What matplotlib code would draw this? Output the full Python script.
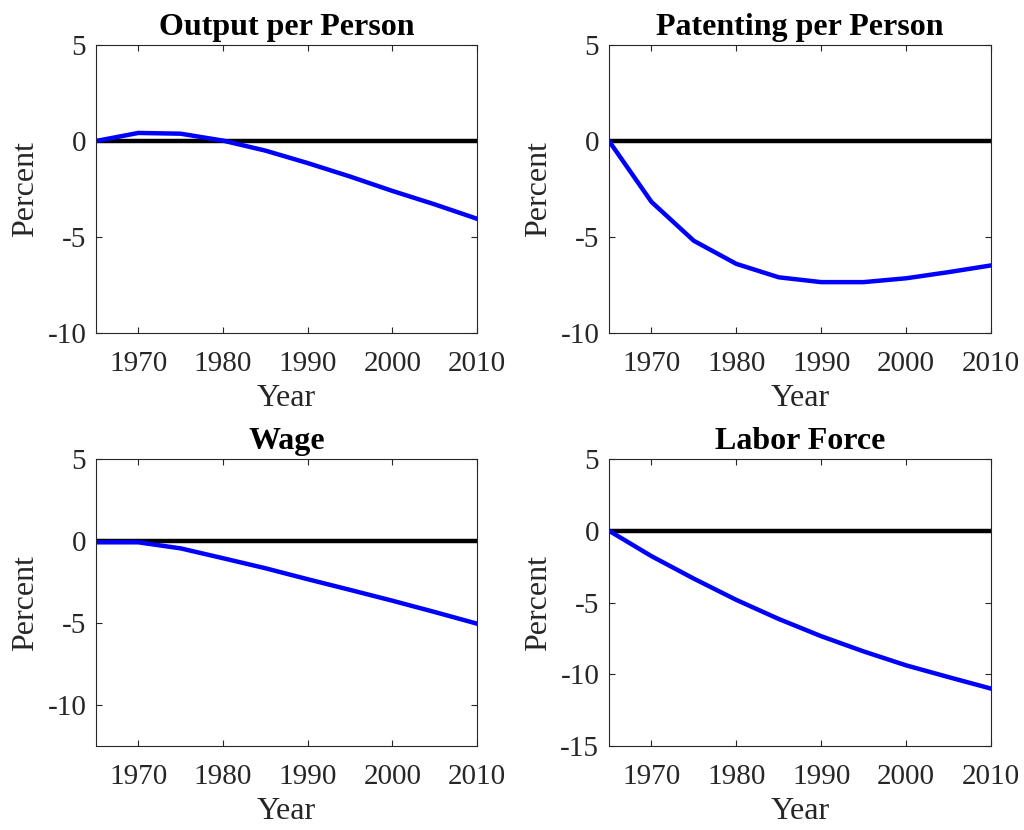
import matplotlib
matplotlib.use("Agg")
import matplotlib.pyplot as plt

years = [1965, 1970, 1975, 1980, 1985, 1990, 1995, 2000, 2005, 2010]
output_pp = [0.0, 0.42, 0.38, 0.02, -0.5, -1.15, -1.85, -2.6, -3.3, -4.05]
patenting_pp = [0.0, -3.17, -5.2, -6.4, -7.1, -7.35, -7.35, -7.15, -6.83, -6.48]
wage = [-0.08, -0.08, -0.45, -1.05, -1.66, -2.33, -2.98, -3.64, -4.33, -5.04]
labor_force = [0.0, -1.77, -3.34, -4.82, -6.15, -7.35, -8.41, -9.38, -10.2, -11.0]

titles = ["Output per Person", "Patenting per Person", "Wage", "Labor Force"]
series = [output_pp, patenting_pp, wage, labor_force]
ylims = [(-10, 5), (-10, 5), (-12.5, 5), (-15, 5)]
yticks = [[-10, -5, 0, 5], [-10, -5, 0, 5], [-10, -5, 0, 5], [-15, -10, -5, 0, 5]]
xticks = [1970, 1980, 1990, 2000, 2010]

plt.rcParams['font.family'] = ['Liberation Serif', 'DejaVu Serif']
plt.rcParams['axes.unicode_minus'] = False

fig = plt.figure(figsize=(10.24, 8.3), dpi=100)
W, H = 1024, 830
boxes = [(96, 45, 477, 333), (609, 45, 991, 333), (96, 459, 477, 746), (609, 459, 991, 746)]

for (x0, y0, x1, y1), t, s, yl, yt in zip(boxes, titles, series, ylims, yticks):
    ax = fig.add_axes([x0 / W, 1 - y1 / H, (x1 - x0) / W, (y1 - y0) / H])
    ax.plot([years[0], years[-1]], [0, 0], color='black', lw=3.2, solid_capstyle='butt')
    ax.plot(years, s, color='#0000ff', lw=3.2, solid_joinstyle='round')
    ax.set_xlim(1965, 2010)
    ax.set_ylim(*yl)
    ax.set_xticks(xticks)
    ax.set_yticks(yt)
    ax.set_xticklabels([str(v) for v in xticks])
    ax.set_yticklabels([str(v) for v in yt])
    ax.tick_params(direction='in', top=True, right=True, length=4, width=0.8,
                   labelsize=21, colors='#262626', labelcolor='#262626')
    ax.tick_params(axis='x', pad=13)
    ax.tick_params(axis='y', pad=7)
    for sp in ax.spines.values():
        sp.set_color('#262626')
        sp.set_linewidth(0.8)
    ax.set_title(t, fontsize=23, fontweight='bold', pad=7)
    ax.set_xlabel("Year", fontsize=23, color='#262626', labelpad=5)
    ax.set_ylabel("Percent", fontsize=23, color='#262626', labelpad=5)

fig.savefig("out.png", dpi=100)
